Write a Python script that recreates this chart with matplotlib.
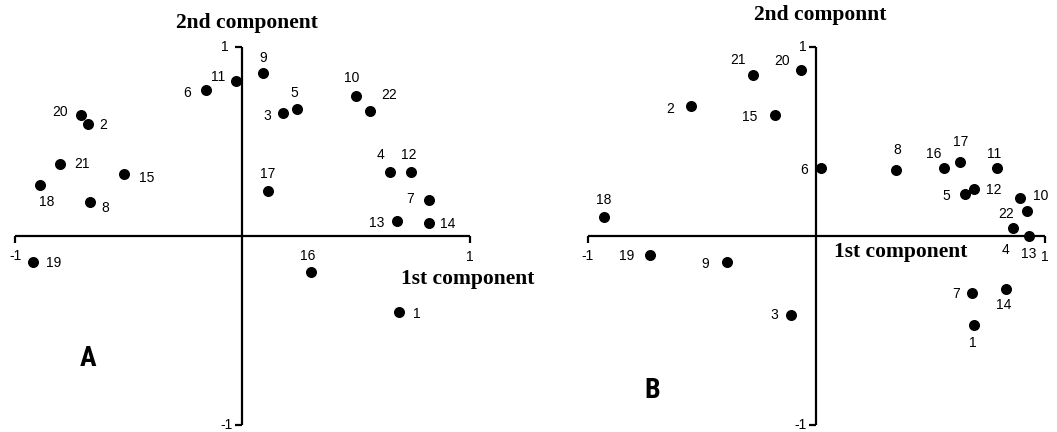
import matplotlib.pyplot as plt
from matplotlib import font_manager

# panel A loadings (1st, 2nd component)
ids_a = [1, 2, 3, 4, 5, 6, 7, 8, 9, 10, 11, 12, 13, 14, 15, 16, 17, 18, 19, 20, 21, 22]
x_a = [0.69, -0.68, 0.18, 0.65, 0.24, -0.16, 0.82, -0.67, 0.09, 0.50, -0.03,
       0.74, 0.68, 0.82, -0.52, 0.30, 0.11, -0.89, -0.92, -0.71, -0.80, 0.56]
y_a = [-0.40, 0.59, 0.65, 0.34, 0.67, 0.77, 0.19, 0.18, 0.86, 0.74, 0.82,
       0.34, 0.08, 0.07, 0.33, -0.19, 0.24, 0.27, -0.14, 0.64, 0.38, 0.66]

# panel B loadings
ids_b = [1, 2, 3, 4, 5, 6, 7, 8, 9, 10, 11, 12, 13, 14, 15, 16, 17, 18, 19, 20, 21, 22]
x_b = [0.69, -0.55, -0.11, 0.86, 0.65, 0.02, 0.68, 0.35, -0.39, 0.89, 0.79,
       0.69, 0.93, 0.83, -0.18, 0.56, 0.63, -0.93, -0.73, -0.07, -0.28, 0.92]
y_b = [-0.47, 0.69, -0.42, 0.04, 0.22, 0.36, -0.30, 0.35, -0.14, 0.20, 0.36,
       0.25, 0.00, -0.28, 0.64, 0.36, 0.39, 0.10, -0.10, 0.88, 0.85, 0.13]

# label offsets in pixels (layout only)
off_a = {1: (17, -2), 2: (15, -1), 3: (-16, -3), 4: (-10, 17), 5: (-3, 16),
         6: (-19, -3), 7: (-19, 1), 8: (15, -6), 9: (0, 15), 10: (-5, 18),
         11: (-18, 4), 12: (-2, 17), 13: (-21, -2), 14: (19, -1), 15: (22, -4),
         16: (-3, 16), 17: (0, 17), 18: (7, -17), 19: (20, -1), 20: (-21, 3),
         21: (22, 0), 22: (19, 16)}
off_b = {1: (-1, -18), 2: (-21, -3), 3: (-17, 0), 4: (-8, -22), 5: (-19, -2),
         6: (-17, -2), 7: (-16, -1), 8: (1, 20), 9: (-22, -2), 10: (21, 2),
         11: (-3, 14), 12: (20, -1), 13: (0, -18), 14: (-2, -16), 15: (-26, -2),
         16: (-11, 14), 17: (0, 20), 18: (0, 17), 19: (-23, -1), 20: (-18, 9),
         21: (-15, 15), 22: (-21, -3)}

W, H = 1057, 432
fig = plt.figure(figsize=(W / 100, H / 100), dpi=100)

names = {f.name for f in font_manager.fontManager.ttflist}
narrow = [n for n in ('DejaVu Sans Condensed', 'Liberation Sans Narrow', 'Roboto Condensed')
          if n in names] + ['DejaVu Sans']

num_font = dict(family=['Liberation Sans', 'DejaVu Sans'], fontsize=10)
title_font = dict(family=['Liberation Serif', 'DejaVu Serif'], fontweight='bold', fontsize=15.5)
letter_font = dict(family=narrow, fontweight='heavy', fontstretch='condensed', fontsize=20)


def panel(px_left, px_right, ids, xs, ys, offs, ytitle, xtitle_pos, letter, letter_pos,
          ytitle_pos, top_lbl_x, bot_lbl_x):
    ax = fig.add_axes([px_left / W, (H - 425) / H, (px_right - px_left) / W, 378 / H])
    ax.set_xlim(-1, 1)
    ax.set_ylim(-1, 1)
    ax.axis('off')
    kw = dict(color='black', lw=1.6, clip_on=False, solid_capstyle='butt')
    ax.plot([-1, 1], [0, 0], **kw)
    ax.plot([0, 0], [-1, 1], **kw)
    for xe in (-1, 1):
        ax.plot([xe, xe], [0, -0.035], **kw)
    for ye in (-1, 1):
        ax.plot([0, -0.035], [ye, ye], **kw)
    ax.scatter(xs, ys, s=48, color='black', clip_on=False, zorder=3)
    for i, x, y in zip(ids, xs, ys):
        ax.annotate(str(i), (x, y), xytext=offs[i], textcoords='offset pixels',
                    ha='center', va='center', annotation_clip=False, **num_font)
    ax.text(-1, -0.105, '-1', ha='center', va='center', **num_font)
    ax.text(1, -0.11, '1', ha='center', va='center', **num_font)
    ax.text(top_lbl_x, 1.0, '1', ha='center', va='center', **num_font)
    ax.text(bot_lbl_x, -1.0, '-1', ha='center', va='center', **num_font)
    ax.text(ytitle_pos[0], ytitle_pos[1], ytitle, ha='center', va='center', **title_font)
    ax.text(xtitle_pos[0], xtitle_pos[1], '1st component', ha='center', va='center', **title_font)
    ax.text(letter_pos[0], letter_pos[1], letter, ha='center', va='center', **letter_font)
    return ax


panel(15, 470, ids_a, x_a, y_a, off_a, '2nd component', (0.99, -0.225), 'A', (-0.68, -0.65),
      (0.02, 1.125), -0.076, -0.07)
panel(588, 1045, ids_b, x_b, y_b, off_b, '2nd componnt', (0.37, -0.085), 'B', (-0.72, -0.82),
      (0.016, 1.17), -0.058, -0.07)

fig.savefig('out.png', dpi=100)
